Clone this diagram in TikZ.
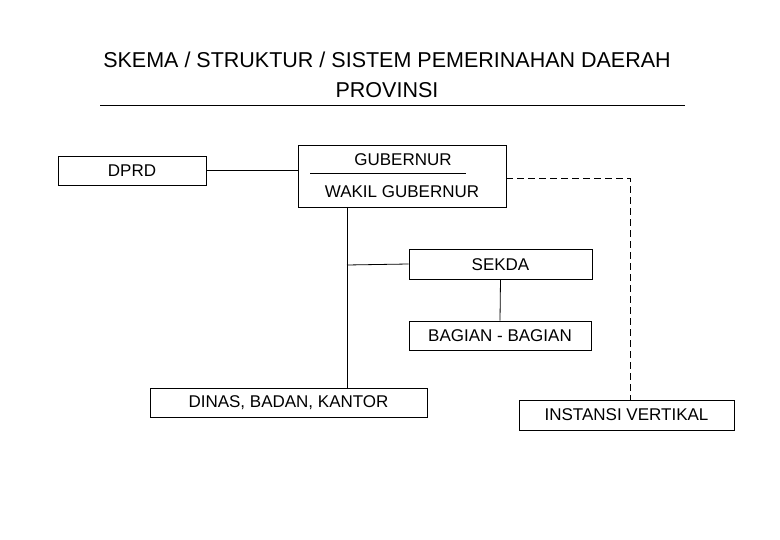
\documentclass[tikz,border=0pt]{standalone}
\usepackage{fontspec}
\setmainfont{Liberation Sans}
\begin{document}
\begin{tikzpicture}[x=1pt,y=-1pt,
  box/.style={draw,line width=0.8pt,inner sep=0pt},
  lbl/.style={font=\fontsize{17}{20}\selectfont},
  ln/.style={line width=0.8pt}]
\useasboundingbox (0,0) rectangle (780,540);
\node[font=\fontsize{21.5}{25}\selectfont] (t1) at (387,60) {SKEMA / STRUKTUR / SISTEM PEMERINAHAN DAERAH};
\node[font=\fontsize{21.5}{25}\selectfont] (t2) at (387,90) {PROVINSI};
\draw[ln] (100,105) -- (685,105);
\node[box,minimum width=148,minimum height=29] (dprd) at (132,170.5) {};
\node[lbl] at (132,170.5) {DPRD};
\node[box,minimum width=208,minimum height=62] (gub) at (402,176) {};
\node[lbl] (g1) at (403,160) {GUBERNUR};
\node[lbl] (g2) at (402,192) {WAKIL GUBERNUR};
\draw[ln] (310,173) -- (466,173);
\node[box,minimum width=183,minimum height=30] (sekda) at (500.5,264) {};
\node[lbl] at (500.5,265) {SEKDA};
\node[box,minimum width=182,minimum height=29] (bag) at (500,335.5) {};
\node[lbl] at (500,335.5) {BAGIAN - BAGIAN};
\node[box,minimum width=277,minimum height=29] (dinas) at (288.5,402.5) {};
\node[lbl] at (288.5,403) {DINAS, BADAN, KANTOR};
\node[box,minimum width=215,minimum height=30] (inst) at (626.5,415) {};
\node[lbl] at (626.5,415) {INSTANSI VERTIKAL};
\draw[ln] (dprd.east) -- (gub.west |- dprd.east);
\draw[ln] (347,207) coordinate (a) -- (347,388) coordinate (b);
\draw[ln] (347,265) -- (sekda.west);
\draw[ln] (sekda.south) -- (bag.north);
\draw[ln,dash pattern=on 7pt off 4pt] (gub.east |- 0,178) -- (630,178) -- (630,400);
\end{tikzpicture}
\end{document}
